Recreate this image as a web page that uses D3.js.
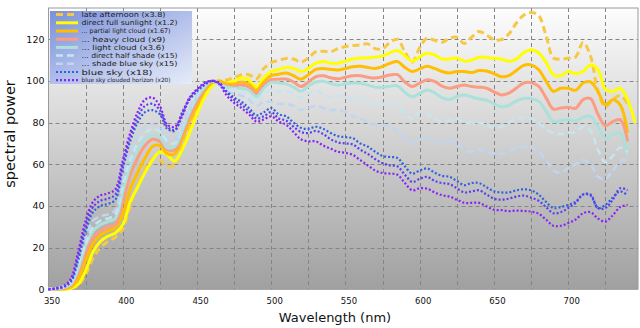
<!DOCTYPE html>
<html>
<head>
<meta charset="utf-8">
<script src="https://cdn.jsdelivr.net/npm/d3@7"></script>
<style>
  html, body { margin: 0; padding: 0; background: #fff; }
  svg { display: block; font-family: "DejaVu Sans", sans-serif; }
</style>
</head>
<body>
<svg id="chart" width="640" height="328"></svg>
<script>
// Wavelength samples (nm)
const wavelengths = [350,355,360,365,370,375,380,385,390,395,400,405,410,415,420,425,430,435,440,445,
  450,455,460,465,470,475,480,485,490,495,500,505,510,515,520,525,530,535,540,545,
  550,555,560,565,570,575,580,585,590,595,600,605,610,615,620,625,630,635,640,645,
  650,655,660,665,670,675,680,685,690,695,700,705,710,715,720,725,730,735,740,745];

// Relative spectral power, normalised to 100 near 460 nm
const lateAfternoon = [0,0,0,0.5,2,7,15,20,23,25,29,40,50,58,62.5,62,59,60,68,77,
  86,93,98,100,100.5,101.5,103,103,101,106,108.8,109.8,110.8,110.5,109,111,114,114.2,114,115.5,
  116.5,117,117.3,117.8,115.5,115.5,118.5,120,114,109,116,120.5,119.5,118.5,120.5,121,118,121,123.7,122,
  119.8,119.8,122.5,127.7,131.5,132.8,131.5,122,111,110.5,110.9,111.5,118.5,112,95,87.6,91,93,89,null];

const directSun = [0,0,0,0.5,2.5,9,18,23,25.5,27,31,42,49,56,62,66,64.5,61.5,67,75,
  84,92,97.5,100,99,100,101.5,100.5,97,101.5,104.5,105.5,106.5,106,104.5,106,108.5,109.3,108.5,108.5,
  109.5,110.5,111,111,111.5,112,113.5,114.6,112,109.5,111.5,113.3,112.5,110.5,110.5,111,109.5,110,111.4,111.2,
  110.8,110.5,109.5,110.5,113.5,115,113.5,109,103,102.5,104.5,103.5,104.5,107.7,105.5,96,95,96.5,91,80];

const partialCloud = [0,0,0.2,1,5,14,22,26,28,29.5,36,48,56,63,68.5,69,65,65,72,81,
  88,95,99,100,98.5,98.5,99.5,98.5,95.5,99.5,102.5,103.2,103.8,102.5,100.8,103,105.5,106,105.5,105.3,
  106,106.8,107,106.5,106,107,108.5,109.3,106.5,104.5,105.8,107,106,104.5,103.8,104.5,104.5,104,105,104.8,
  103.5,102,102.5,105,107.5,107.7,105.5,100,95,96.5,96.5,95.5,99,99.5,95,88.5,91,88.5,75,null];

const heavyCloud = [0,0.2,0.5,2,8,18,25,28,30,31,42,55,63,69,72,71,67,67,74,83,
  90,96,100,99,97.5,97.5,98,97,94,98,100.6,100.8,100.9,99.5,97.3,99.5,102,102.5,101.5,101,
  101.8,102.5,102.5,101.8,101.4,102,102.8,103,99.5,97.3,99,100.6,99.8,97.5,96.5,97.3,98,97.3,97,96.5,
  94.8,93.3,94.2,96.5,99,99.2,97.5,92,86.5,87,87.4,86.9,91,91.5,84,78.5,80.5,81.4,71,null];

const lightCloud = [0,0.3,0.8,2.5,10,21,28,31,32.5,34,47,59,67,72,74,73,68,68.5,76,85,
  92,97,100,98.5,97,96.5,96.5,95.5,92.4,96.5,99.3,99,98.6,97,95,97.5,99.5,99.8,98.8,98,
  98.6,99,98.9,98,97,97,97.5,97.6,94.5,92.4,94,95.6,94.3,92,91.1,92.5,93.3,92.3,91.3,90.8,
  89,87.6,88.3,90.3,91.6,91.5,90.3,85.5,80.5,81,81.4,80.8,82.5,83,78,72.5,74.2,75,64.5,null];

const halfShade = [0,0.3,1,3,12,22,30,33,34,36,50,62,70,75,77,76,71,70,78,86,
  93,98,100,99,96,96,95,93,90,94,96,95,95,94,92,94,95,94,92,93,
  92,91,91,90,88,89,89,88,84,82,85,84,82,80.5,81,82,80,80,80,79,
  77.5,78,80,82,82,82,80,77,75,74.5,75,75.5,78,76,67,61,64,68,66,null];

const shadeBlueSky = [0,0.5,1.5,4,14,25,33,35,36,38,54,65,73,78,79,78,73,72,79,87,
  94,98,100,98,95,94,93,91,88,90,90,89,89,88,86,87,88,87,86,86,
  85,83,82,80,79,79,78,76,72,70,72,73,71,70,71,71,67,66,67,66,
  65,65,66,68,68.5,68,66,62,57,56,58,60,62,60,54,53,57,61.5,62,null];

const blueSky = [0,0.3,1,3.5,14,28,37,40,41,43,58,71,80,85,86,84,77,76,85,91,
  95,98,100,99,95,92,90,87,83.5,85,87,84,83,80,77.5,77,78,77,75,73.5,
  73,72.5,70,68.5,66,64,63.5,63,59,55.5,57,58,56,54.5,54,52,50,51,51,49,
  47,46.5,46.5,47.5,48,47.5,45.5,42,39,39.5,40.5,42,45.5,45,39,40.5,44,47,45,null];

const blueSkyHaze = [0,0.4,1.2,4.2,16,30.5,39.5,42.5,43.5,45.5,60,73,82.5,88,89,86,78,76.5,83,91.5,
  95.5,98.5,100,99,94.5,91,88.5,85.5,82,83,85,82,81,78,75.5,75,76,74.5,72,70.5,
  70,69.5,67,65,62.5,60.5,59.5,59,55,51.5,53,54,52,51,50.5,48.5,46.5,47,47.5,45.5,
  43.5,43,43.5,44.5,45,44,42.5,39.5,36.5,37,39,41.5,45.5,45.5,39,39,43,48.5,47.5,null];

const cloudedHorizon = [0,0.5,1.5,5,18,33,42,45,46,48,62,75,85,91,92,88,79,78,84,92,
  96,99,100,98.5,93,89.5,87,84,80.5,81.5,83,80.5,79,75.5,72,71,71,69,67.5,66,
  65.5,64.5,62,59.5,57,55.8,55.5,55,51,47.5,48.5,48.3,46.5,45.2,44.5,43,41.5,41.5,41.5,39.8,
  38.2,38,37.5,37.8,37.6,37.3,36.3,33.5,30.5,30.5,31.8,33.5,36.5,37,34,32.5,35.5,39.5,40.5,null];

const xTicks = [350,400,450,500,550,600,650,700];
const yTicks = [0,20,40,60,80,100,120];
const xGrid = [375,400,425,450,475,500,525,550,575,600,625,650,675,700,725];
const yGrid = [20,40,60,80,100,120];

// drawing styles per curve; legend text is fitted to a set width
const series = [
  {label: "late afternoon (x3.8)", values: lateAfternoon, color: "#f7c842", width: 3, dash: "7,4", size: 7, fit: 84, legend: true},
  {label: "direct full sunlight (x1.2)", values: directSun, color: "#ffff00", width: 3, dash: null, size: 7, fit: 96, legend: true},
  {label: "... partial light cloud (x1.67)", values: partialCloud, color: "#ffbf00", width: 3, dash: null, size: 6.4, fit: 89, legend: true},
  {label: "... heavy cloud (x9)", values: heavyCloud, color: "#fb9d82", width: 3, dash: null, size: 7, fit: 84, legend: true},
  {label: "... light cloud (x3.6)", values: lightCloud, color: "#abe1da", width: 3, dash: null, size: 7, fit: 83, legend: true},
  {label: "... direct half shade (x15)", values: halfShade, color: "#c6e6ef", width: 2.5, dash: "7,4", size: 7, fit: 96, legend: true},
  {label: "... shade blue sky (x15)", values: shadeBlueSky, color: "#bfd6f3", width: 2.5, dash: "7,4", size: 7, fit: 96, legend: true},
  {label: "blue sky (x18)", values: blueSky, color: "#2f62e2", width: 2.2, dash: "2,2", size: 7.1, fit: 71, legend: true},
  {label: "blue sky, haze", values: blueSkyHaze, color: "#5a3ff0", width: 2.2, dash: "2,2", size: 7, fit: 0, legend: false},
  {label: "blue sky clouded horizon (x20)", values: cloudedHorizon, color: "#8a22f6", width: 2.2, dash: "2,2", size: 5.8, fit: 89, legend: true}
];

const svg = d3.select("#chart");
const plotLeft = 48.5, plotRight = 638, plotTop = 8, plotBottom = 289.3;

const x = d3.scaleLinear().domain([350, 747]).range([plotLeft, plotRight]);
const y = d3.scaleLinear().domain([0, 135]).range([plotBottom, plotTop]);

const defs = svg.append("defs");
const bg = defs.append("linearGradient").attr("id", "plotBg")
  .attr("x1", 0).attr("y1", 0).attr("x2", 0).attr("y2", 1);
bg.append("stop").attr("offset", "0%").attr("stop-color", "#fdfdfd");
bg.append("stop").attr("offset", "100%").attr("stop-color", "#a0a0a0");

const lg = defs.append("linearGradient").attr("id", "legendBg")
  .attr("x1", 0).attr("y1", 0).attr("x2", 1).attr("y2", 1);
lg.append("stop").attr("offset", "0%").attr("stop-color", "#7a90da");
lg.append("stop").attr("offset", "100%").attr("stop-color", "#e6ecf9");

// plot background
svg.append("rect")
  .attr("x", plotLeft).attr("y", plotTop)
  .attr("width", plotRight - plotLeft).attr("height", plotBottom - plotTop)
  .attr("fill", "url(#plotBg)");

// grid
const grid = svg.append("g").attr("stroke", "#858585").attr("stroke-width", 1)
  .attr("stroke-dasharray", "4,3");
grid.selectAll("line.v").data(xGrid).join("line").attr("class", "v")
  .attr("x1", d => Math.round(x(d)) + 0.5).attr("x2", d => Math.round(x(d)) + 0.5)
  .attr("y1", plotTop).attr("y2", plotBottom);
grid.selectAll("line.h").data(yGrid).join("line").attr("class", "h")
  .attr("y1", d => Math.round(y(d)) + 0.5).attr("y2", d => Math.round(y(d)) + 0.5)
  .attr("x1", plotLeft).attr("x2", plotRight);

// frame
svg.append("rect")
  .attr("x", plotLeft).attr("y", plotTop)
  .attr("width", plotRight - plotLeft).attr("height", plotBottom - plotTop)
  .attr("fill", "none").attr("stroke", "#9a9a9a").attr("stroke-width", 1);

// curves
const line = d3.line()
  .defined(d => d[1] !== null)
  .x(d => x(d[0]))
  .y(d => y(d[1]))
  .curve(d3.curveCatmullRom.alpha(0.5));

const plot = svg.append("g");
series.forEach(s => {
  plot.append("path")
    .datum(wavelengths.map((w, i) => [w, s.values[i]]))
    .attr("fill", "none")
    .attr("stroke", s.color)
    .attr("stroke-width", s.width)
    .attr("stroke-dasharray", s.dash)
    .attr("stroke-linejoin", "round")
    .attr("d", line);
});

// axes
const xAxis = svg.append("g").attr("transform", `translate(3,${plotBottom})`)
  .call(d3.axisBottom(x).tickValues(xTicks).tickSize(0).tickPadding(9));
xAxis.select(".domain").remove();
xAxis.selectAll("text").attr("font-size", 8.5).attr("fill", "#111")
  .attr("font-family", "DejaVu Sans");

const yAxis = svg.append("g").attr("transform", `translate(${plotLeft - 4},0)`)
  .call(d3.axisLeft(y).tickValues(yTicks).tickSize(0).tickPadding(0));
yAxis.select(".domain").remove();
yAxis.selectAll("text").attr("font-size", 9.5).attr("fill", "#111")
  .attr("font-family", "DejaVu Sans");

svg.append("text")
  .attr("x", 335).attr("y", 322)
  .attr("text-anchor", "middle")
  .attr("font-size", 13).attr("fill", "#111")
  .text("Wavelength (nm)");

svg.append("text")
  .attr("transform", "translate(15,134) rotate(-90)")
  .attr("text-anchor", "middle")
  .attr("font-size", 14.5).attr("fill", "#111")
  .text("spectral power");

// legend
const legendItems = series.filter(s => s.legend);
const legend = svg.append("g");
legend.append("rect")
  .attr("x", 50).attr("y", 11).attr("width", 142).attr("height", 73)
  .attr("fill", "url(#legendBg)");

const rows = legend.selectAll("g.row").data(legendItems).join("g")
  .attr("class", "row")
  .attr("transform", (d, i) => `translate(0,${14.6 + i * 8.2})`);
rows.append("line")
  .attr("x1", 56).attr("x2", 78).attr("y1", 0).attr("y2", 0)
  .attr("stroke", d => d.color)
  .attr("stroke-width", d => d.width)
  .attr("stroke-dasharray", d => d.dash);
rows.append("text")
  .attr("x", 81.5).attr("y", 0)
  .attr("dy", "0.35em")
  .attr("font-size", d => d.size)
  .attr("textLength", d => d.fit)
  .attr("lengthAdjust", "spacingAndGlyphs")
  .attr("fill", "#1a1a1a")
  .text(d => d.label);
</script>
</body>
</html>
